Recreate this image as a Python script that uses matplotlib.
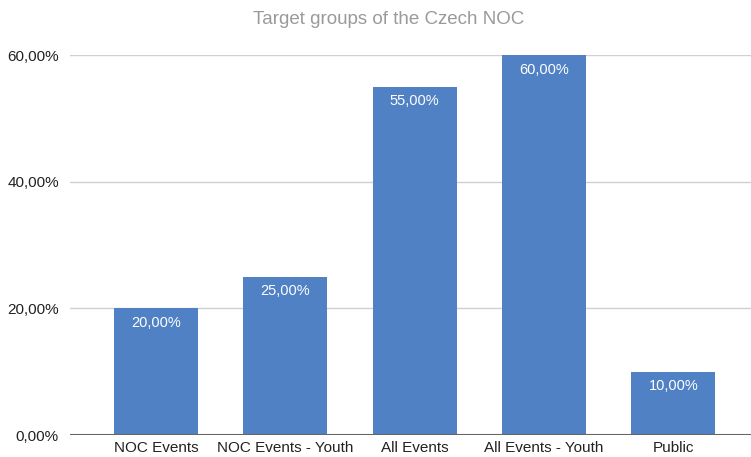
import matplotlib
matplotlib.use("Agg")
import matplotlib.pyplot as plt
from matplotlib.ticker import FuncFormatter

categories = ["NOC Events", "NOC Events - Youth", "All Events",
              "All Events - Youth", "Public"]
values = [20, 25, 55, 60, 10]
yticks = [0, 20, 40, 60]

plt.rcParams["font.family"] = ["Liberation Sans", "DejaVu Sans"]

fig = plt.figure(figsize=(7.51, 4.57), dpi=100)
ax = fig.add_axes([0.0932, 0.0481, 0.9068, 0.8315])

x = range(len(categories))
ax.bar(x, values, width=0.65, color="#4f81c4", zorder=3)

for xi, v in zip(x, values):
    ax.text(xi, v - 1.2, f"{v:.2f}%".replace(".", ","), ha="center", va="top",
            color="white", fontsize=10.5, zorder=4)

ax.set_xlim(-0.665, len(categories) - 1 + 0.60)
ax.set_ylim(0, 60)
ax.set_yticks(yticks)
ax.yaxis.set_major_formatter(FuncFormatter(lambda v, p: f"{v:.2f}%".replace(".", ",")))
ax.set_xticks(list(x))
ax.set_xticklabels(categories)

ax.grid(axis="y", color="#d0d0d0", linewidth=1, zorder=0)
ax.axhline(0, color="#666666", linewidth=1.5, zorder=5)
for s in ax.spines.values():
    s.set_visible(False)
ax.tick_params(axis="both", length=0, labelsize=11, colors="#222222")
ax.tick_params(axis="y", pad=8)
ax.tick_params(axis="x", pad=4)

fig.suptitle("Target groups of the Czech NOC", x=0.517, y=0.975,
             fontsize=13.5, color="#9a9a9a")

fig.savefig("out.png", dpi=100)
